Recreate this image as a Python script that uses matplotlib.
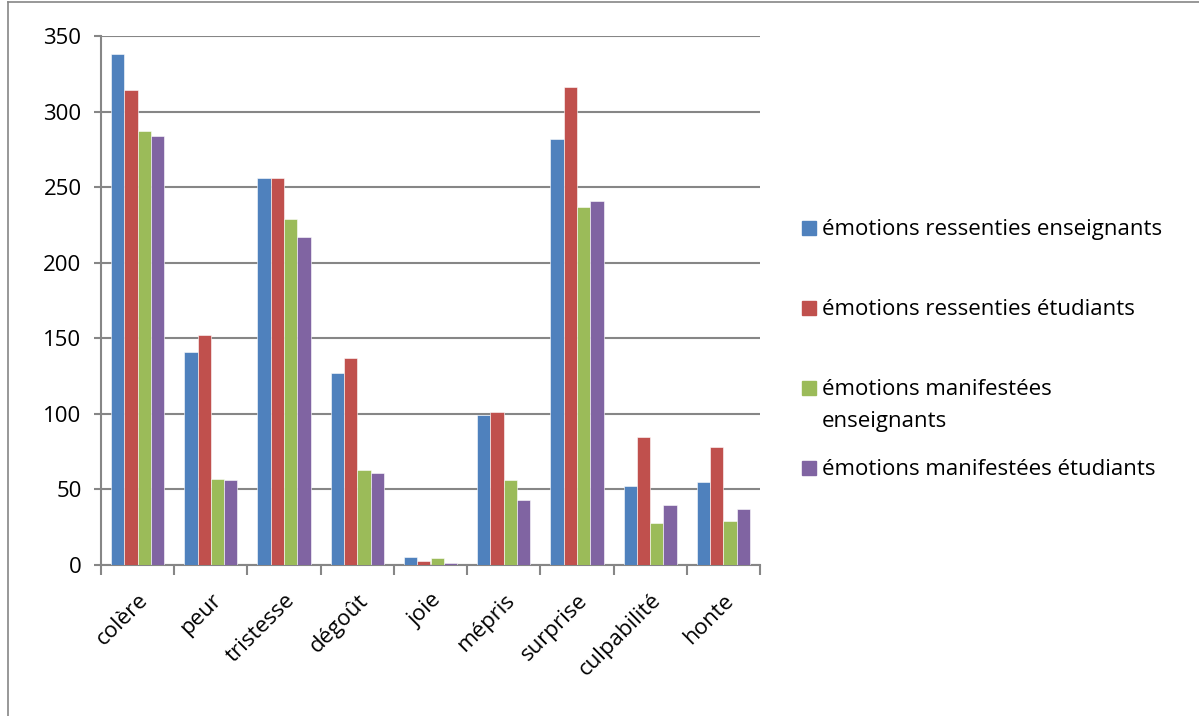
import matplotlib.pyplot as plt
from matplotlib.patches import Rectangle
import numpy as np

categories = ['colère', 'peur', 'tristesse', 'dégoût', 'joie', 'mépris',
              'surprise', 'culpabilité', 'honte']
ressenties_enseignants = [338, 141, 256, 127, 5, 99, 282, 52, 55]
ressenties_etudiants = [314, 152, 256, 137, 2.5, 101, 316, 85, 78]
manifestees_enseignants = [287, 57, 229, 63, 4.5, 56, 237, 28, 29]
manifestees_etudiants = [284, 56, 217, 61, 1, 43, 241, 40, 37]

labels = ['émotions ressenties enseignants',
          'émotions ressenties étudiants',
          'émotions manifestées\nenseignants',
          'émotions manifestées étudiants']
colors = ['#4f81bd', '#c0504d', '#9bbb59', '#8064a2']
series = [ressenties_enseignants, ressenties_etudiants,
          manifestees_enseignants, manifestees_etudiants]

plt.rcParams['font.family'] = ['Open Sans', 'DejaVu Sans']
grey = '#868686'
W, H = 1199, 716

fig = plt.figure(figsize=(W / 100, H / 100), dpi=100)
ax = fig.add_axes([101/W, 1-565/H, 659/W, 529/H])

x = np.arange(len(categories))
w = 0.182
for i, (vals, col, lab) in enumerate(zip(series, colors, labels)):
    ax.bar(x + (i - 1.5) * w, vals, w, color=col, label=lab,
           edgecolor='white', linewidth=0.4, zorder=3)

ax.set_xlim(-0.5, len(categories) - 0.5)
ax.set_ylim(0, 350)
ax.set_yticks(np.arange(0, 351, 50))
ax.yaxis.grid(True, color=grey, linewidth=1.5, zorder=0)
ax.tick_params(axis='y', labelsize=16, length=5, width=1.5, color=grey, pad=9)

ax.set_xticks(np.arange(-0.5, len(categories), 1))
ax.set_xticklabels([])
ax.set_xticks(x, minor=True)
ax.set_xticklabels(categories, minor=True, rotation=45, ha='right',
                   rotation_mode='anchor', fontsize=16)
ax.tick_params(axis='x', which='major', length=7, width=1.5, color=grey)
ax.tick_params(axis='x', which='minor', length=0, pad=18)

for s in ['top', 'right']:
    ax.spines[s].set_visible(False)
for s in ['left', 'bottom']:
    ax.spines[s].set_color(grey)
    ax.spines[s].set_linewidth(1.5)

# legend drawn by hand to follow the spacing of the original
leg_y = [228, 308, 388, 468]
for lab, col, yy in zip(labels, colors, leg_y):
    fig.add_artist(Rectangle((802/W, 1-(yy+7)/H), 14/W, 14/H, color=col,
                             transform=fig.transFigure))
    for k, line in enumerate(lab.split('\n')):
        fig.text(822/W, 1-(yy+7+32*k)/H, line, fontsize=16,
                 va='baseline', ha='left')

fig.add_artist(plt.Line2D([8/W, 8/W], [0, 1-2/H], color=grey,
                          linewidth=1.2, transform=fig.transFigure))
fig.add_artist(plt.Line2D([8/W, 1], [1-2/H, 1-2/H], color=grey,
                          linewidth=1.2, transform=fig.transFigure))

fig.savefig('out.png', dpi=100)
